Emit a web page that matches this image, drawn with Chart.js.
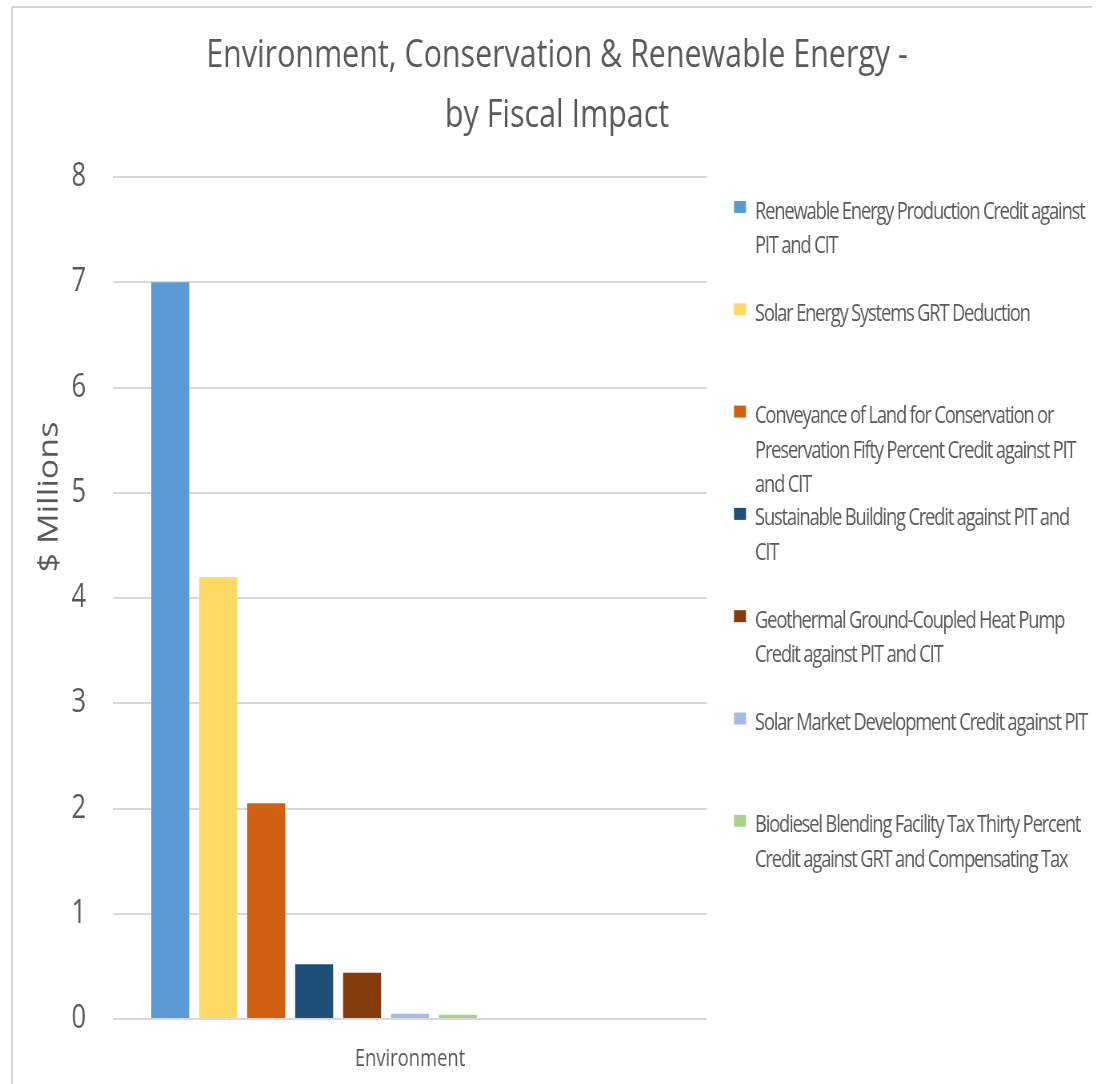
<!DOCTYPE html>
<html>
<head>
<meta charset="utf-8">
<title>Environment, Conservation &amp; Renewable Energy - by Fiscal Impact</title>
<script src="https://cdn.jsdelivr.net/npm/chart.js@4/dist/chart.umd.min.js"></script>
<style>
  html, body { margin: 0; padding: 0; background: #ffffff; overflow: hidden; }
  #chart { display: block; }
</style>
</head>
<body>
<canvas id="chart" width="1371" height="1084" style="width:1097px;height:1084px"></canvas>
<script>
// ---- chart content ----
const chartTitle = ['Environment, Conservation & Renewable Energy -', 'by Fiscal Impact'];
const yAxisTitle = '$ Millions';
const categories = ['Environment'];

// legend text, one entry per series, already broken into lines
const seriesNames = [
  ['Renewable Energy Production Credit against', 'PIT and CIT'],
  ['Solar Energy Systems GRT Deduction'],
  ['Conveyance of Land for Conservation or', 'Preservation Fifty Percent Credit against PIT', 'and CIT'],
  ['Sustainable Building Credit against PIT and', 'CIT'],
  ['Geothermal Ground-Coupled Heat Pump', 'Credit against PIT and CIT'],
  ['Solar Market Development Credit against PIT'],
  ['Biodiesel Blending Facility Tax Thirty Percent', 'Credit against GRT and Compensating Tax']
];

// fiscal impact, $ millions
const seriesValues = [7.0, 4.2, 2.05, 0.52, 0.44, 0.05, 0.04];

const seriesColors = ['#5b9bd5', '#ffd966', '#d26012', '#1f4e79', '#843c0c', '#a4bbe6', '#a9d18e'];

// the group keeps room for further series that carry no value
const unusedSlots = 4;

const yTickValues = [0, 1, 2, 3, 4, 5, 6, 7, 8];

// ---- drawing ----
// The canvas is laid out wider than it is shown, so everything, lettering included,
// comes out horizontally condensed.
const CANVAS_W = 1371;
const SHOWN_W = 1097;
const sx = (px) => px * CANVAS_W / SHOWN_W;

const TEXT = '#595959';
const GRID = '#d9d9d9';
const FONT = "'Open Sans', 'DejaVu Sans', sans-serif";

const datasets = seriesValues.map((v, i) => ({
  label: seriesNames[i].join(' '),
  data: [v],
  backgroundColor: seriesColors[i],
  borderWidth: 0
}));
for (let k = 0; k < unusedSlots; k++) {
  datasets.push({ label: '', data: [null], backgroundColor: 'rgba(0,0,0,0)' });
}

const framePlugin = {
  id: 'frame',
  beforeDraw(chart) {
    const ctx = chart.ctx;
    ctx.save();
    ctx.fillStyle = '#ffffff';
    ctx.fillRect(0, 0, chart.width, chart.height);
    ctx.strokeStyle = '#d4d4d4';
    ctx.lineWidth = 2;
    ctx.beginPath();
    ctx.moveTo(sx(12), chart.height);
    ctx.lineTo(sx(12), 7);
    ctx.lineTo(sx(1092), 7);
    ctx.stroke();
    ctx.restore();
  }
};

const textPlugin = {
  id: 'chartTexts',
  afterDraw(chart) {
    const ctx = chart.ctx;
    ctx.save();
    ctx.fillStyle = TEXT;

    // title
    ctx.font = `38px ${FONT}`;
    ctx.textAlign = 'center';
    ctx.textBaseline = 'alphabetic';
    ctx.fillText(chartTitle[0], sx(557), 67);
    ctx.fillText(chartTitle[1], sx(557), 127);

    // value axis title
    ctx.save();
    ctx.translate(sx(50), 497);
    ctx.rotate(-Math.PI / 2);
    ctx.font = `34px ${FONT}`;
    ctx.textAlign = 'center';
    ctx.textBaseline = 'middle';
    ctx.fillText(yAxisTitle, 0, 0);
    ctx.restore();

    // legend
    ctx.font = `23px ${FONT}`;
    if ('letterSpacing' in ctx) ctx.letterSpacing = '-1.5px';
    ctx.textAlign = 'left';
    ctx.textBaseline = 'middle';
    let row = 0;
    chart.data.datasets.forEach((ds, i) => {
      if (!ds.label) return;
      const y0 = 212 + row * 102.3;
      ctx.fillStyle = ds.backgroundColor;
      ctx.fillRect(sx(734), y0 - 11, sx(746) - sx(734), 12);
      ctx.fillStyle = TEXT;
      seriesNames[i].forEach((line, j) => {
        ctx.fillText(line, sx(755), y0 + j * 34.5);
      });
      row++;
    });
    ctx.restore();
  }
};

new Chart(document.getElementById('chart'), {
  type: 'bar',
  data: { labels: categories, datasets },
  options: {
    responsive: false,
    animation: false,
    devicePixelRatio: 1,
    layout: { padding: { top: 177, right: CANVAS_W - sx(707), bottom: 0, left: 0 } },
    datasets: { bar: { categoryPercentage: 0.888, barPercentage: 0.792 } },
    plugins: { legend: { display: false }, title: { display: false }, tooltip: { enabled: false } },
    scales: {
      x: {
        grid: { display: false, drawTicks: false },
        border: { display: false },
        ticks: { color: TEXT, font: { family: FONT, size: 23 }, padding: 27 },
        afterFit(scale) { scale.height = 65; }
      },
      y: {
        min: 0, max: 8,
        afterBuildTicks(scale) { scale.ticks = yTickValues.map(v => ({ value: v })); },
        grid: { color: GRID, lineWidth: 2, drawTicks: false },
        border: { display: false },
        ticks: { color: TEXT, font: { family: FONT, size: 32 }, padding: sx(113) - sx(86) },
        afterFit(scale) { scale.width = sx(113); }
      }
    }
  },
  plugins: [framePlugin, textPlugin]
});
</script>
</body>
</html>
